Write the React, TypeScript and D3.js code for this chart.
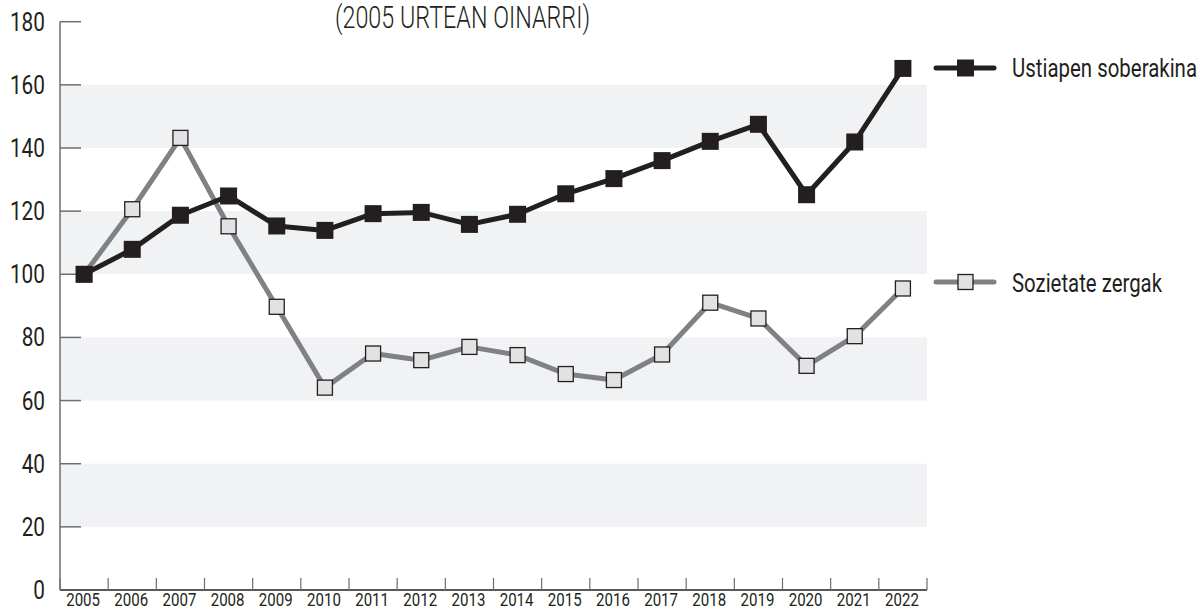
import React from 'react';
import * as d3 from 'd3';

const years = ['2005','2006','2007','2008','2009','2010','2011','2012','2013','2014','2015','2016','2017','2018','2019','2020','2021','2022'];
const ustiapen = [100,107.9,118.7,124.8,115.3,113.9,119.2,119.6,115.8,119,125.5,130.3,136,142.1,147.5,125.2,141.9,165.2];
const sozietate = [100,120.6,143.2,115.2,89.7,64.1,74.9,72.8,77,74.4,68.4,66.5,74.6,91,86,71,80.4,95.5];
const yTicks = [0,20,40,60,80,100,120,140,160,180];
const bands: [number, number][] = [[20,40],[60,80],[100,120],[140,160]];
const seriesNames = ['Ustiapen soberakina', 'Sozietate zergak'];
const subtitle = '(2005 URTEAN OINARRI)';

const FONT = "Roboto, 'Open Sans', sans-serif";

function CText({ x, y, sx = 0.8, anchor = 'start', size, children }: any) {
  return (
    <text transform={`translate(${x},${y}) scale(${sx},1)`} textAnchor={anchor} fontSize={size} fill="#231f20">
      {children}
    </text>
  );
}

export default function App() {
  const W = 1203, H = 614;
  const left = 60, right = 927, top = 21.7, bottom = 590;
  const x = d3.scaleBand<string>().domain(years).range([left, right]);
  const y = d3.scaleLinear().domain([0, 180]).range([bottom, top]);
  const cx = (yr: string) => (x(yr) as number) + x.bandwidth() / 2;
  const line = d3.line<number>().x((_, i) => cx(years[i])).y(d => y(d));
  const black = '#231f20';
  const grayLine = '#808184';
  const grayFill = '#e1e2e4';
  const axisGray = '#6d6e71';

  return (
    <div style={{ position: 'absolute', left: 0, top: 0 }}>
      <svg width={W} height={H} style={{ display: 'block', fontFamily: FONT }}>
        <rect x={0} y={0} width={W} height={H} fill="#ffffff" />
        {bands.map(([a, b]) => (
          <rect key={a} x={left} y={y(b)} width={right - left} height={y(a) - y(b)} fill="#f1f2f4" />
        ))}
        {/* y axis */}
        <line x1={left} x2={left} y1={top} y2={bottom} stroke={axisGray} strokeWidth={1.5} />
        {yTicks.map(t => (
          <g key={t}>
            {t > 0 && <line x1={left} x2={left + 21} y1={y(t)} y2={y(t)} stroke={axisGray} strokeWidth={1.5} />}
            <CText x={45} y={y(t) + 9} anchor="end" size={26} sx={0.8}>{t}</CText>
          </g>
        ))}
        {/* x axis */}
        <line x1={left} x2={right} y1={bottom} y2={bottom} stroke={black} strokeWidth={1.5} />
        {[...years.map(yr => x(yr) as number), right].map((p, i) => (
          <line key={i} x1={p} x2={p} y1={bottom} y2={bottom - 12} stroke={axisGray} strokeWidth={1.2} />
        ))}
        {years.map(yr => (
          <CText key={yr} x={cx(yr) - 1} y={606} anchor="middle" size={17.5} sx={0.86}>{yr}</CText>
        ))}
        {/* subtitle */}
        <text x={335} y={28} fontSize={32} fontWeight={300} fill={black} textLength={255} lengthAdjust="spacingAndGlyphs">{subtitle}</text>
        {/* gray series */}
        <path d={line(sozietate) || ''} fill="none" stroke={grayLine} strokeWidth={5} strokeLinejoin="round" />
        {sozietate.map((v, i) => (
          <rect key={i} x={cx(years[i]) - 7.5} y={y(v) - 7.5} width={15} height={15} fill={grayFill} stroke={black} strokeWidth={1.3} />
        ))}
        {/* black series */}
        <path d={line(ustiapen) || ''} fill="none" stroke={black} strokeWidth={5} strokeLinejoin="round" />
        {ustiapen.map((v, i) => (
          <rect key={i} x={cx(years[i]) - 8.5} y={y(v) - 8.5} width={17} height={17} fill={black} />
        ))}
        {/* legend */}
        <g>
          <line x1={936} x2={994} y1={68} y2={68} stroke={black} strokeWidth={5} strokeLinecap="round" />
          <rect x={957} y={59.5} width={17} height={17} fill={black} />
          <text x={1012} y={77} fontSize={25} fill={black} textLength={185} lengthAdjust="spacingAndGlyphs">{seriesNames[0]}</text>
        </g>
        <g>
          <line x1={936} x2={994} y1={282} y2={282} stroke={grayLine} strokeWidth={5} strokeLinecap="round" />
          <rect x={958} y={274.5} width={15} height={15} fill={grayFill} stroke={black} strokeWidth={1.3} />
          <text x={1012} y={292} fontSize={25} fill={black} textLength={150} lengthAdjust="spacingAndGlyphs">{seriesNames[1]}</text>
        </g>
      </svg>
    </div>
  );
}
